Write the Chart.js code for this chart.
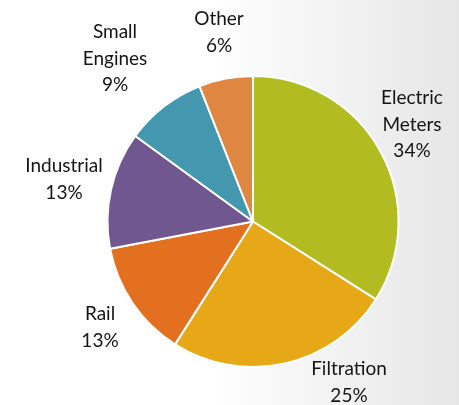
<!DOCTYPE html>
<html>
<head>
<meta charset="utf-8">
<script src="https://cdn.jsdelivr.net/npm/chart.js@4/dist/chart.umd.min.js"></script>
<style>
  html, body { margin: 0; padding: 0; }
  body {
    width: 459px; height: 405px; overflow: hidden;
    background: linear-gradient(to right, #ffffff 0%, #ffffff 45%, #e6e6e6 100%);
  }
  #wrap { position: relative; width: 459px; height: 405px; }
</style>
</head>
<body>
<div id="wrap"><canvas id="pie" width="459" height="405"></canvas></div>
<script>
// data
const categories = ['Electric Meters', 'Filtration', 'Rail', 'Industrial', 'Small Engines', 'Other'];
const shares = [34, 25, 13, 13, 9, 6];
const sliceColors = ['#b2bb20', '#e6a817', '#e3701f', '#705790', '#4398b0', '#df8640'];

// label text split into lines, and where each label block sits (px from pie centre)
const labelLines = [['Electric', 'Meters'], ['Filtration'], ['Rail'], ['Industrial'], ['Small', 'Engines'], ['Other']];
const labelOffsets = [[159, -97], [96, 161], [-153, 106], [-189, -42], [-138, -163], [-34, -189]];

const labelPlugin = {
  id: 'outsideLabels',
  afterDatasetsDraw(chart) {
    const ctx = chart.ctx;
    const arcs = chart.getDatasetMeta(0).data;
    const lineH = 26.5;
    ctx.save();
    ctx.font = '19px Lato, "Open Sans", sans-serif';
    ctx.fillStyle = '#141414';
    ctx.textAlign = 'center';
    ctx.textBaseline = 'middle';
    arcs.forEach(function(arc, i) {
      const lines = labelLines[i].concat([shares[i] + '%']);
      const cx = arc.x + labelOffsets[i][0];
      const cy = arc.y + labelOffsets[i][1];
      const top = cy - (lines.length - 1) * lineH / 2;
      lines.forEach(function(t, k) {
        ctx.fillText(t, cx, top + k * lineH);
      });
    });
    ctx.restore();
  }
};

new Chart(document.getElementById('pie'), {
  type: 'pie',
  data: {
    labels: categories,
    datasets: [{
      data: shares,
      backgroundColor: sliceColors,
      borderColor: '#ffffff',
      borderWidth: 2
    }]
  },
  options: {
    responsive: false,
    animation: false,
    layout: { padding: { top: 75, bottom: 37, left: 106, right: 59 } },
    plugins: {
      legend: { display: false },
      tooltip: { enabled: false }
    }
  },
  plugins: [labelPlugin]
});
</script>
</body>
</html>
